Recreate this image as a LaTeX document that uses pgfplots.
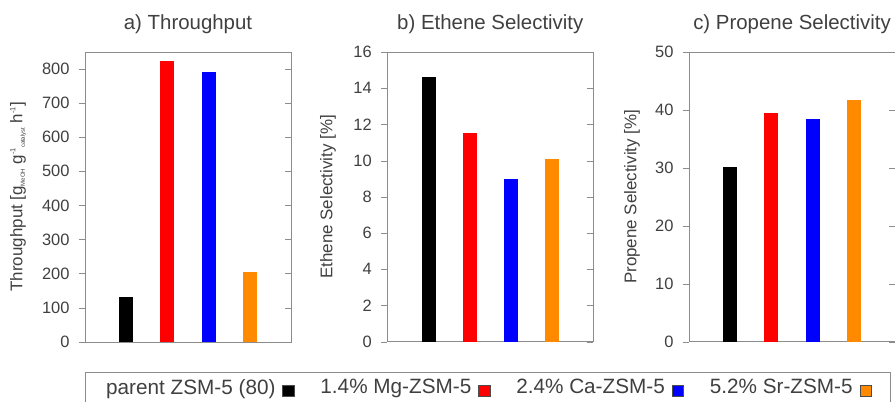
\documentclass[border=0pt]{standalone}
\usepackage{pgfplots}
\pgfplotsset{compat=1.18}
\usepackage{fontspec}
\setmainfont{Liberation Sans}
\definecolor{txt}{HTML}{404040}
\definecolor{frame}{HTML}{8C8C8C}
\definecolor{myorange}{HTML}{FF8A00}
\definecolor{myred}{HTML}{FF0000}
\definecolor{myblue}{HTML}{0000FF}
\newcommand{\mysub}[1]{\raisebox{-2.5bp}{\fontsize{6}{7}\selectfont #1}}
\newcommand{\mysup}[1]{\raisebox{7bp}{\fontsize{7.5}{8}\selectfont #1}}
\pgfplotsset{
  panel/.style={
    scale only axis, width=206bp, height=289.7bp,
    xmin=0, xmax=5, ymin=0,
    xtick=\empty,
    axis line style={draw=frame},
    tick align=center, major tick length=6bp,
    ytick style={draw=frame, xshift=-3bp},
    tick label style={font=\fontsize{16.5}{19}\selectfont, text=txt},
    yticklabel style={xshift=-9bp},
    /pgf/number format/assume math mode=true,
    title style={font=\fontsize{20.5}{23}\selectfont, text=txt, at={(axis description cs:0.5,1)}, anchor=base, yshift=17bp},
    ylabel style={font=\fontsize{17}{20}\selectfont, text=txt, anchor=center},
    ybar, bar width=14bp, bar shift=0pt,
  },
  sq/.style={draw=none, legend image code/.code={\draw[##1, draw=black!70, line width=0.5bp] (0bp,-9bp) rectangle (11.5bp,2.5bp);}}
}
\begin{document}
\begin{tikzpicture}
\path[use as bounding box, clip] (0,0) rectangle (895bp,402bp);
\begin{axis}[panel, at={(85bp,60.3bp)}, anchor=south west,
  ymax=850, ytick={0,100,...,800},
  title={a) Throughput},
  ylabel={Throughput [g\mysub{MeOH} g\mysup{-1}\mysub{catalyst} h\mysup{-1}]},
  ylabel style={at={(axis description cs:-0.325,0.5)}},
  legend plot pos=right,
  legend style={at={(axis description cs:0,-0.104)}, anchor=north west,
    legend columns=4, draw=frame, text=txt, font=\fontsize{20.8}{24}\selectfont,
    inner xsep=19bp, inner ysep=5bp,
    /tikz/every even column/.append style={column sep=24bp},
    /tikz/every odd column/.append style={column sep=5bp}},
]
\addplot[sq, fill=black] coordinates {(1,130)};
\addlegendentry{parent ZSM-5 (80)}
\addplot[sq, fill=myred] coordinates {(2,825)};
\addlegendentry{1.4\% Mg-ZSM-5}
\addplot[sq, fill=myblue] coordinates {(3,792)};
\addlegendentry{2.4\% Ca-ZSM-5}
\addplot[sq, fill=myorange] coordinates {(4,205)};
\addlegendentry{5.2\% Sr-ZSM-5}
\end{axis}
\begin{axis}[panel, at={(387.3bp,60.3bp)}, anchor=south west,
  ymax=16, ytick={0,2,...,16},
  title={b) Ethene Selectivity},
  ylabel={Ethene Selectivity [\%]},
  ylabel style={at={(axis description cs:-0.288,0.5)}},
]
\addplot[draw=none, fill=black] coordinates {(1,14.6)};
\addplot[draw=none, fill=myred] coordinates {(2,11.5)};
\addplot[draw=none, fill=myblue] coordinates {(3,9.0)};
\addplot[draw=none, fill=myorange] coordinates {(4,10.1)};
\end{axis}
\begin{axis}[panel, at={(689bp,60.3bp)}, anchor=south west,
  ymax=50, ytick={0,10,...,50},
  title={c) Propene Selectivity},
  ylabel={Propene Selectivity [\%]},
  ylabel style={at={(axis description cs:-0.277,0.5)}},
]
\addplot[draw=none, fill=black] coordinates {(1,30.2)};
\addplot[draw=none, fill=myred] coordinates {(2,39.5)};
\addplot[draw=none, fill=myblue] coordinates {(3,38.4)};
\addplot[draw=none, fill=myorange] coordinates {(4,41.8)};
\end{axis}
\end{tikzpicture}
\end{document}
